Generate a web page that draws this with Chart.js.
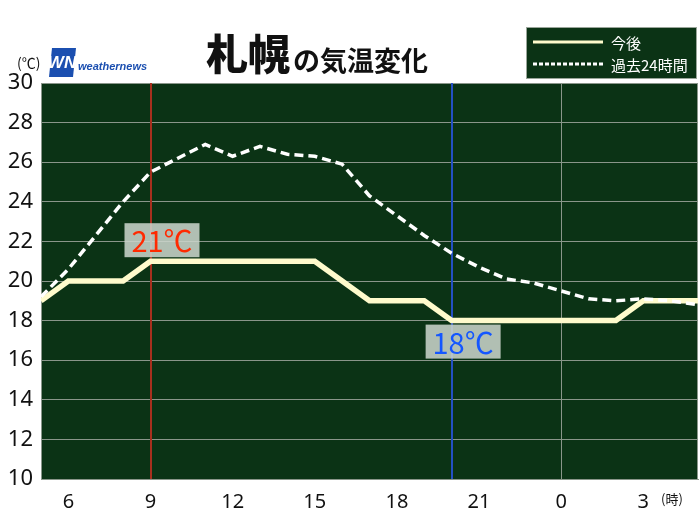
<!DOCTYPE html>
<html lang="ja">
<head>
  <meta charset="UTF-8">
  <title>札幌の気温変化</title>
  <script src="https://cdn.jsdelivr.net/npm/chart.js"></script>
  <style>
    body { margin: 0; background: #fff; }
  </style>
</head>
<body>
  <canvas id="tempChart" width="700" height="525"></canvas>

  <script>
    // hours since midnight of the first day (24 = 0時 next day)
    const hours = [5, 6, 7, 8, 9, 10, 11, 12, 13, 14, 15, 16, 17, 18, 19, 20, 21, 22, 23, 24, 25, 26, 27, 28, 29];
    const forecast = [19, 20, 20, 20, 21, 21, 21, 21, 21, 21, 21, 20, 19, 19, 19, 18, 18, 18, 18, 18, 18, 18, 19, 19, 19];
    const past24h = [19.2, 20.6, 22.3, 24.0, 25.5, 26.2, 26.9, 26.3, 26.8, 26.4, 26.3, 25.9, 24.3, 23.3, 22.3, 21.4, 20.7, 20.1, 19.9, 19.5, 19.1, 19.0, 19.1, 19.0, 18.8];
    const xTicks = [6, 9, 12, 15, 18, 21, 24, 27];
    const markerHours = [9, 20, 24];
    const calloutHours = [9, 20];
    const calloutTemps = [21, 18];

    const plotBg = '#0b3315';
    const gridColor = '#8a968a';

    const decorations = {
      id: 'decorations',
      beforeDraw(chart) {
        const { ctx, chartArea: a } = chart;
        ctx.save();
        ctx.fillStyle = plotBg;
        ctx.fillRect(a.left, a.top, a.right - a.left, a.bottom - a.top);
        ctx.restore();
      },
      beforeDatasetsDraw(chart) {
        const { ctx, chartArea: a } = chart;
        const x = chart.scales.x;
        const colors = ['#a8301e', '#2450c4', '#8a968a'];
        const widths = [2, 2, 1];
        ctx.save();
        markerHours.forEach((h, i) => {
          let px = Math.round(x.getPixelForValue(h));
          if (widths[i] === 1) px += 0.5;
          ctx.strokeStyle = colors[i];
          ctx.lineWidth = widths[i];
          ctx.beginPath();
          ctx.moveTo(px, a.top);
          ctx.lineTo(px, a.bottom);
          ctx.stroke();
        });
        // right border
        ctx.strokeStyle = gridColor;
        ctx.lineWidth = 1;
        ctx.beginPath();
        ctx.moveTo(a.right - 0.5, a.top);
        ctx.lineTo(a.right - 0.5, a.bottom);
        ctx.stroke();
        ctx.restore();
      },
      afterDraw(chart) {
        const { ctx } = chart;
        const x = chart.scales.x, y = chart.scales.y;
        ctx.save();

        // callouts
        const textColors = ['#ff2a00', '#1457ff'];
        calloutHours.forEach((h, i) => {
          const px = x.getPixelForValue(h);
          const py = y.getPixelForValue(calloutTemps[i]);
          const w = 75, hgt = 34;
          const bx = px - 26;
          const by = i === 0 ? py - 4 - hgt : py + 4;
          ctx.fillStyle = 'rgba(205,214,205,0.86)';
          ctx.fillRect(bx, by, w, hgt);
          ctx.fillStyle = textColors[i];
          ctx.font = '29px "Noto Sans CJK JP", "Noto Sans", sans-serif';
          ctx.textAlign = 'center';
          ctx.textBaseline = 'middle';
          ctx.fillText(calloutTemps[i] + '℃', bx + w / 2, by + hgt / 2 + 1);
        });

        // title
        ctx.fillStyle = '#111';
        ctx.textAlign = 'left';
        ctx.textBaseline = 'alphabetic';
        ctx.font = '900 42px "Noto Sans CJK JP", sans-serif';
        ctx.fillText('札幌', 206, 70);
        ctx.font = 'bold 27px "Noto Sans CJK JP", sans-serif';
        ctx.fillText('の気温変化', 293, 71);

        // unit labels
        ctx.font = '14px "Noto Sans CJK JP", sans-serif';
        ctx.textBaseline = 'middle';
        ctx.fillText('(℃)', 17, 63);
        ctx.font = '13px "Noto Sans CJK JP", sans-serif';
        ctx.fillText('(時)', 661, 499);

        // WN logo
        ctx.fillStyle = '#1b4fb0';
        ctx.beginPath();
        ctx.moveTo(52, 48);
        ctx.lineTo(76, 48);
        ctx.lineTo(73, 77);
        ctx.lineTo(49, 77);
        ctx.closePath();
        ctx.fill();
        ctx.fillStyle = '#fff';
        ctx.font = 'italic bold 17px "Liberation Sans", sans-serif';
        ctx.textAlign = 'center';
        ctx.fillText('WN', 62, 63);
        ctx.fillStyle = '#1b4fb0';
        ctx.font = 'italic bold 11px "Liberation Sans", sans-serif';
        ctx.textAlign = 'left';
        ctx.fillText('weathernews', 78, 67);

        // legend box
        ctx.fillStyle = plotBg;
        ctx.fillRect(526, 27, 171, 52);
        ctx.strokeStyle = '#9aa59a';
        ctx.lineWidth = 1;
        ctx.strokeRect(526.5, 27.5, 170, 51);
        const ds = chart.data.datasets;
        const rows = [ds[1], ds[0]];
        rows.forEach((d, i) => {
          const ly = 42 + i * 22;
          ctx.strokeStyle = d.borderColor;
          ctx.lineWidth = 3;
          ctx.setLineDash(d.borderDash ? [4, 2] : []);
          ctx.beginPath();
          ctx.moveTo(533, ly);
          ctx.lineTo(603, ly);
          ctx.stroke();
          ctx.setLineDash([]);
          ctx.fillStyle = '#fff';
          ctx.font = '15px "Noto Sans CJK JP", sans-serif';
          ctx.textBaseline = 'middle';
          ctx.fillText(d.label, 611, ly + 1);
        });
        ctx.restore();
      }
    };

    const ctx = document.getElementById('tempChart').getContext('2d');
    const chart = new Chart(ctx, {
      type: 'line',
      data: {
        datasets: [
          {
            label: '過去24時間',
            data: hours.map((h, i) => ({ x: h, y: past24h[i] })),
            borderColor: '#ffffff',
            borderWidth: 3.5,
            borderDash: [9, 5],
            pointRadius: 0,
            fill: false,
            order: 0
          },
          {
            label: '今後',
            data: hours.map((h, i) => ({ x: h, y: forecast[i] })),
            borderColor: '#fffbcc',
            borderWidth: 5.5,
            pointRadius: 0,
            fill: false,
            order: 1
          }
        ]
      },
      options: {
        responsive: false,
        animation: false,
        layout: { padding: { top: 83, right: 2, left: 0, bottom: 0 } },
        plugins: {
          legend: { display: false },
          tooltip: { enabled: false }
        },
        scales: {
          x: {
            type: 'linear',
            min: 5,
            max: 29,
            afterBuildTicks: scale => { scale.ticks = xTicks.map(v => ({ value: v })); },
            afterFit: scale => { scale.height = 46; },
            grid: { display: false },
            border: { display: true, color: gridColor },
            ticks: {
              color: '#111',
              font: { family: '"Noto Sans", sans-serif', size: 20 },
              padding: 3,
              maxRotation: 0,
              callback: v => String(v % 24)
            }
          },
          y: {
            min: 10,
            max: 30,
            afterFit: scale => { scale.width = 41; },
            grid: { color: gridColor, lineWidth: 1, drawTicks: false },
            border: { display: true, color: gridColor },
            ticks: {
              stepSize: 2,
              color: '#111',
              font: { family: '"Noto Sans", sans-serif', size: 22 },
              padding: 8
            }
          }
        }
      },
      plugins: [decorations]
    });
  </script>
</body>
</html>
